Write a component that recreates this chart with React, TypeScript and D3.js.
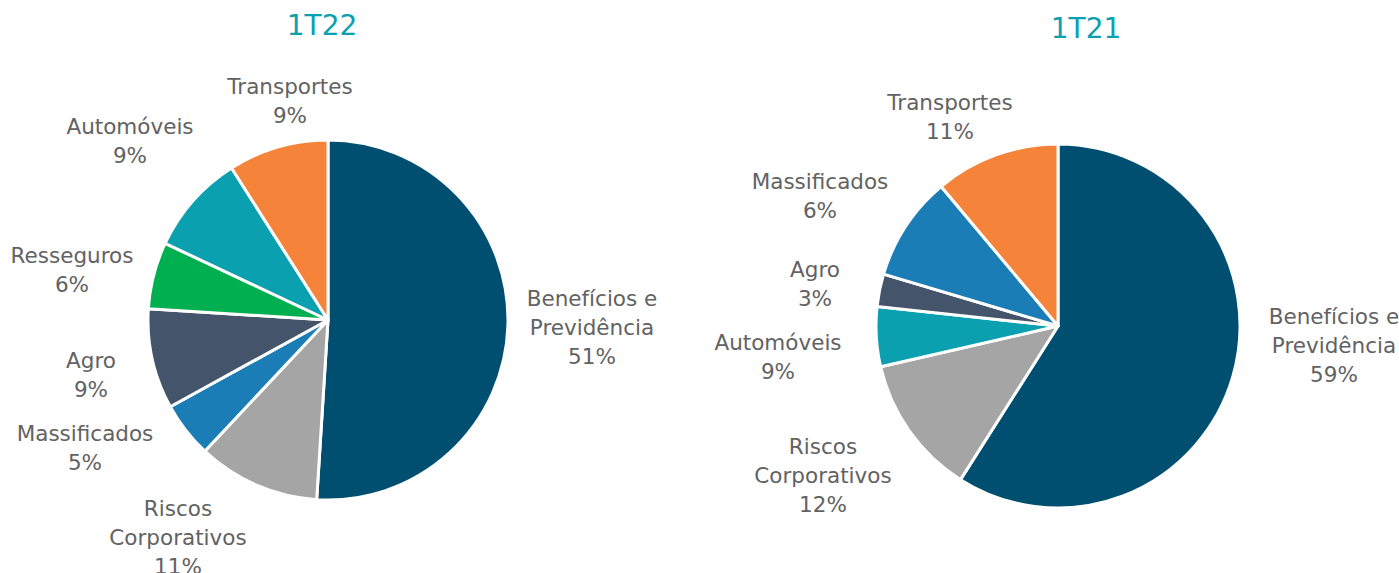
import React from "react";
import * as d3 from "d3";

const categories1T22 = ["Benefícios e Previdência", "Riscos Corporativos", "Massificados", "Agro", "Resseguros", "Automóveis", "Transportes"];
const values1T22 = [51, 11, 5, 9, 6, 9, 9];
const pct1T22 = ["51%", "11%", "5%", "9%", "6%", "9%", "9%"];

const categories1T21 = ["Benefícios e Previdência", "Riscos Corporativos", "Automóveis", "Agro", "Massificados", "Transportes"];
const values1T21 = [59, 12.4, 5.3, 2.9, 9.3, 11.1];
const pct1T21 = ["59%", "12%", "9%", "3%", "6%", "11%"];

const colors: Record<string, string> = {
  "Benefícios e Previdência": "#004f71",
  "Riscos Corporativos": "#a5a5a5",
  "Massificados": "#1a7db5",
  "Agro": "#44546a",
  "Resseguros": "#00b050",
  "Automóveis": "#0aa0b0",
  "Transportes": "#f5843a",
};

const labelLines: Record<string, string[]> = {
  "Benefícios e Previdência": ["Benefícios e", "Previdência"],
  "Riscos Corporativos": ["Riscos", "Corporativos"],
  "Massificados": ["Massificados"],
  "Agro": ["Agro"],
  "Resseguros": ["Resseguros"],
  "Automóveis": ["Automóveis"],
  "Transportes": ["Transportes"],
};

const labelPos1T22: Record<string, [number, number]> = {
  "Benefícios e Previdência": [592, 298],
  "Riscos Corporativos": [178, 508],
  "Massificados": [85, 433],
  "Agro": [91, 360],
  "Resseguros": [72, 255],
  "Automóveis": [130, 126],
  "Transportes": [290, 86],
};
const labelPos1T21: Record<string, [number, number]> = {
  "Benefícios e Previdência": [1334, 316],
  "Riscos Corporativos": [823, 446],
  "Automóveis": [778, 342],
  "Agro": [815, 269],
  "Massificados": [820, 181],
  "Transportes": [950, 102],
};

const FONT = "'DejaVu Sans', sans-serif";

function Pie({ cats, vals, pcts, cx, cy, r, title, tx, ty, pos }: any) {
  const pie = d3.pie<number>().sort(null).value((d) => d)(vals);
  const arc = d3.arc<d3.PieArcDatum<number>>().innerRadius(0).outerRadius(r);
  return (
    <g>
      <text x={tx} y={ty} textAnchor="middle" dominantBaseline="central" fill="#0aa0b0" fontSize={28} fontFamily={FONT}>{title}</text>
      <g transform={`translate(${cx},${cy})`}>
        {pie.map((p, i) => (
          <path key={i} d={arc(p) || ""} fill={colors[cats[i]]} stroke="#fff" strokeWidth={3} strokeLinejoin="round" />
        ))}
      </g>
      {cats.map((c: string, i: number) => {
        const [x, y] = pos[c];
        const lines = [...labelLines[c], pcts[i]];
        return (
          <text key={c} textAnchor="middle" fill="#626262" fontSize={21.5} fontFamily={FONT}>
            {lines.map((l, j) => (
              <tspan key={j} x={x} y={y + j * 29} dominantBaseline="central">{l}</tspan>
            ))}
          </text>
        );
      })}
    </g>
  );
}

export default function App() {
  return (
    <svg width={1399} height={573} style={{ position: "absolute", left: 0, top: 0, background: "#fff" }}>
      <Pie cats={categories1T22} vals={values1T22} pcts={pct1T22} cx={328} cy={320} r={180} title="1T22" tx={322} ty={25} pos={labelPos1T22} />
      <Pie cats={categories1T21} vals={values1T21} pcts={pct1T21} cx={1058} cy={326} r={182} title="1T21" tx={1086} ty={28} pos={labelPos1T21} />
    </svg>
  );
}
